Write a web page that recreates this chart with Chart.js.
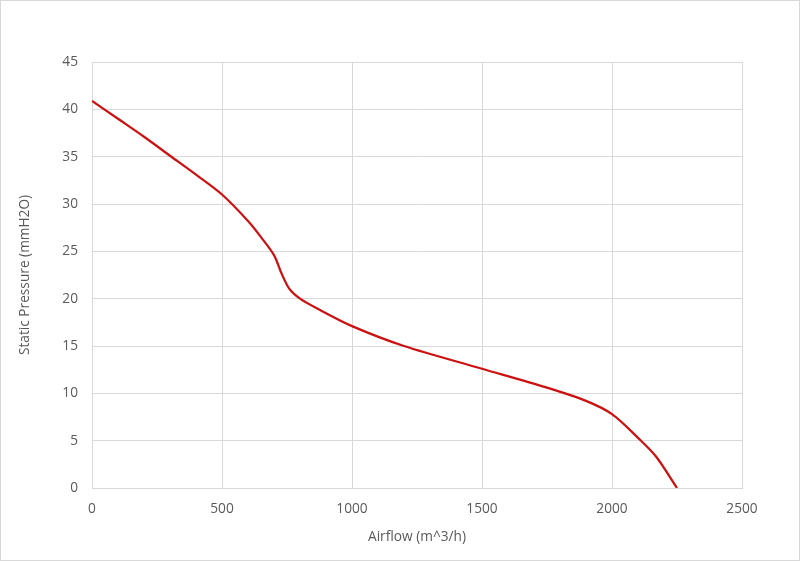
<!DOCTYPE html>
<html>
<head>
<meta charset="utf-8">
<script src="https://cdn.jsdelivr.net/npm/chart.js@4/dist/chart.umd.min.js"></script>
<style>
  html, body { margin: 0; padding: 0; background: #fff; }
  #wrap { position: relative; width: 800px; height: 561px; }
  #frame { position: absolute; left: 0; top: 0; width: 800px; height: 561px; box-sizing: border-box; border: 1px solid #d9d9d9; pointer-events: none; }
</style>
</head>
<body>
<div id="wrap">
  <canvas id="c" width="800" height="561"></canvas>
  <div id="frame"></div>
</div>
<script>
const airflow  = [0, 100, 200, 300, 400, 500, 600, 650, 700, 730, 760, 800, 870, 1000, 1200, 1500, 1750, 1900, 2000, 2100, 2170, 2250];
const pressure = [40.9, 39.0, 37.1, 35.1, 33.1, 31.0, 28.2, 26.5, 24.6, 22.6, 21.0, 20.0, 18.9, 17.1, 15.0, 12.6, 10.6, 9.2, 7.8, 5.3, 3.3, 0];
const xTicks = [0, 500, 1000, 1500, 2000, 2500];
const yTicks = [0, 5, 10, 15, 20, 25, 30, 35, 40, 45];
const xTitle = 'Airflow (m^3/h)';
const yTitle = 'Static Pressure (mmH2O)';

const textColor = '#595959';
const gridColor = '#d9d9d9';
const font = { family: "'Open Sans', 'DejaVu Sans', sans-serif", size: 13.7 };

new Chart(document.getElementById('c'), {
  type: 'scatter',
  data: {
    datasets: [{
      data: airflow.map((x, i) => ({ x: x, y: pressure[i] })),
      showLine: true,
      borderColor: '#cc1111',
      borderWidth: 2.25,
      pointRadius: 0,
      tension: 0.3
    }]
  },
  options: {
    responsive: false,
    animation: false,
    layout: { padding: { top: 62, right: 58, left: 0, bottom: 0 } },
    plugins: { legend: { display: false }, tooltip: { enabled: false } },
    scales: {
      x: {
        type: 'linear', min: 0, max: 2500,
        afterBuildTicks: s => { s.ticks = xTicks.map(v => ({ value: v })); },
        afterFit: s => { s.height = 73; },
        grid: { color: gridColor, drawTicks: false },
        border: { color: gridColor },
        ticks: { color: textColor, font: font, padding: 13, maxRotation: 0, callback: v => String(v) },
        title: { display: true, text: xTitle, color: textColor, font: font, padding: { top: 0, bottom: 16 } }
      },
      y: {
        type: 'linear', min: 0, max: 45,
        afterBuildTicks: s => { s.ticks = yTicks.map(v => ({ value: v })); },
        afterFit: s => { s.width = 92; },
        grid: { color: gridColor, drawTicks: false },
        border: { color: gridColor },
        ticks: { color: textColor, font: font, padding: 14, callback: v => String(v) },
        title: { display: true, text: yTitle, color: textColor, font: font, padding: { top: 17, bottom: 0 } }
      }
    }
  }
});
</script>
</body>
</html>
